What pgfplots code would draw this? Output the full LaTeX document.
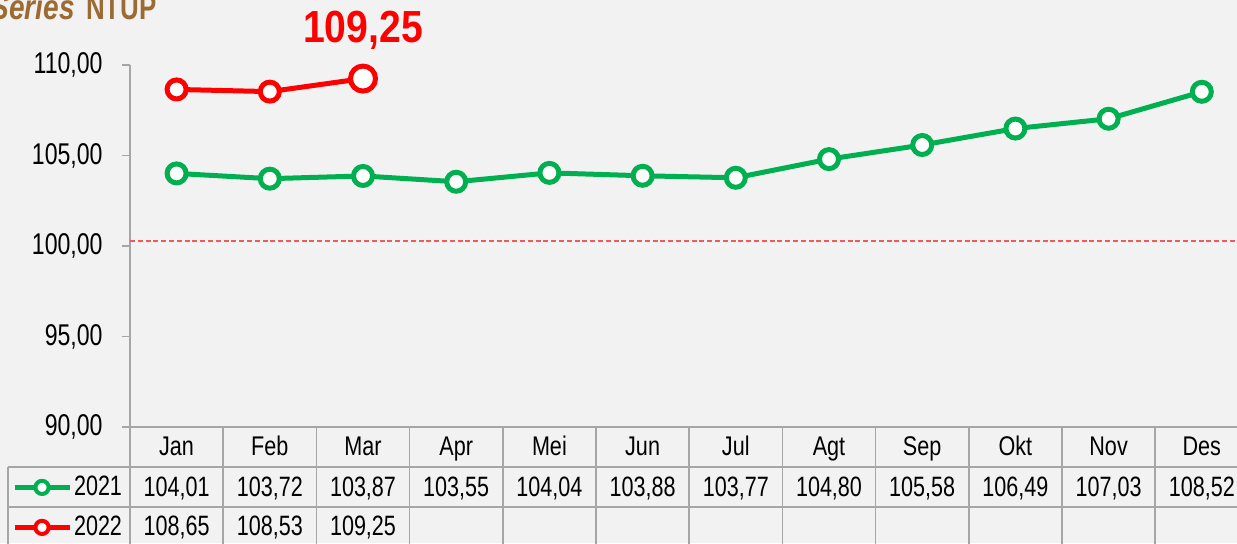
\documentclass[border=0pt]{standalone}
\usepackage{pgfplots}
\pgfplotsset{compat=1.18}
\usepackage{pgfplotstable}
\usepackage{fontspec}
\setmainfont[FakeStretch=0.77]{Liberation Sans}
\newfontfamily\labfont[FakeStretch=0.87]{Liberation Sans}
\newfontfamily\catfont[FakeStretch=0.80]{Liberation Sans}
\newfontfamily\titlefontA[FakeStretch=0.80]{Liberation Sans}
\newfontfamily\titlefontB[FakeStretch=0.74]{Liberation Sans}
\definecolor{bgc}{HTML}{F2F2F2}
\definecolor{ngreen}{HTML}{00B050}
\definecolor{nred}{HTML}{FF0000}
\definecolor{gridc}{HTML}{A6A6A6}
\definecolor{titlec}{HTML}{9C6A33}
\definecolor{dashc}{HTML}{F05A5A}

\pgfplotstableread{
x y
0 104.01
1 103.72
2 103.87
3 103.55
4 104.04
5 103.88
6 103.77
7 104.80
8 105.58
9 106.49
10 107.03
11 108.52
}\dataA
\pgfplotstableread{
x y
0 108.65
1 108.53
2 109.25
}\dataB

\newcommand{\tabfont}{\fontsize{14}{16}\selectfont}
\newcommand{\numfmt}[1]{\pgfmathprintnumber[fixed,fixed zerofill,precision=2,use comma,assume math mode=true,1000 sep={}]{#1}}

\begin{document}
\begin{tikzpicture}
\fill[bgc] (0,0) rectangle (618.5pt,271.5pt);
\begin{axis}[
  at={(65pt,58pt)}, anchor=south west,
  scale only axis, width=559.2pt, height=181pt,
  xmin=-0.5, xmax=11.5, ymin=90, ymax=110,
  clip=false,
  axis x line*=bottom, axis y line*=left,
  axis line style={gridc, line width=0.75pt, -},
  xtick={0,1,2,3,4,5,6,7,8,9,10,11},
  xticklabels={Jan,Feb,Mar,Apr,Mei,Jun,Jul,Agt,Sep,Okt,Nov,Des},
  xtick style={draw=none},
  xticklabel style={anchor=base, yshift=-10pt, inner sep=0pt, font=\catfont\fontsize{13.5}{15}\selectfont},
  ytick={90,95,100,105,110},
  ytick style={gridc, line width=0.75pt},
  tick align=outside, major tick length=4pt,
  yticklabel style={anchor=east, inner sep=0pt, xshift=-9.5pt, font=\fontsize{15}{17}\selectfont,
    /pgf/number format/.cd, fixed, fixed zerofill, precision=2, use comma, assume math mode=true},
  legend style={at={(axis cs:-1.77,87.79)}, anchor=north west, draw=none, fill=none,
    inner sep=0pt, row sep=0pt, column sep=1pt, font=\tabfont,
    nodes={inner sep=0pt, minimum height=20pt}},
  legend cell align=left,
  legend image code/.code={
    \draw[#1, mark=none] (0pt,0pt) -- (27.5pt,0pt);
    \draw[#1, mark size=3.3pt, line width=2pt] plot coordinates {(13.75pt,0pt)};
  },
]
% reference line
\addplot[dashc, line width=0.9pt, dash pattern=on 2.5pt off 1.4pt, forget plot]
  coordinates {(-0.5,100.27) (11.5,100.27)};

% table grid
\draw[gridc, line width=0.75pt] (axis cs:-1.809,87.79) -- (axis cs:11.5,87.79);
\draw[gridc, line width=0.75pt] (axis cs:-1.809,85.58) -- (axis cs:11.5,85.58);
\draw[gridc, line width=0.75pt] (axis cs:-1.809,87.79) -- (axis cs:-1.809,82);
\pgfplotsinvokeforeach{-0.5,0.5,1.5,2.5,3.5,4.5,5.5,6.5,7.5,8.5,9.5,10.5,11.5}{
  \draw[gridc, line width=0.75pt] (axis cs:#1,90) -- (axis cs:#1,82);
}

\addplot[ngreen, line width=2.5pt, mark=*, mark size=4.75pt, mark options={fill=white}]
  table[x=x, y=y]{\dataA};
\addlegendentry{2021}
\addplot[nred, line width=2.5pt, mark=*, mark size=4.75pt, mark options={fill=white}]
  table[x=x, y=y]{\dataB};
\addlegendentry{2022}

% highlighted last point with label
\addplot[nred, line width=2.5pt, only marks, mark=*, mark size=6.25pt, mark options={fill=white}, forget plot,
  point meta=y, nodes near coords={\numfmt{\pgfplotspointmeta}},
  every node near coord/.append style={anchor=base, yshift=17.8pt, inner sep=0pt,
    font=\labfont\fontsize{22.5}{23}\selectfont\bfseries, text=nred}]
  table[x=x, y=y, skip coords between index={0}{2}]{\dataB};

% data table values
\addplot[draw=none, forget plot, point meta=explicit,
  nodes near coords={\numfmt{\pgfplotspointmeta}},
  every node near coord/.append style={anchor=base, inner sep=0pt, font=\tabfont, text=black}]
  table[x=x, y expr=86.16, meta=y]{\dataA};
\addplot[draw=none, forget plot, point meta=explicit,
  nodes near coords={\numfmt{\pgfplotspointmeta}},
  every node near coord/.append style={anchor=base, inner sep=0pt, font=\tabfont, text=black}]
  table[x=x, y expr=83.98, meta=y]{\dataB};
\end{axis}
\node[anchor=base east, text=titlec, font=\titlefontA\fontsize{17.5}{17.5}\selectfont\bfseries\itshape, inner sep=0pt]
  at (37.5pt,262pt) {Series};
\node[anchor=base east, text=titlec, font=\titlefontB\fontsize{17.5}{17.5}\selectfont\bfseries, inner sep=0pt]
  at (78.5pt,262pt) {NTUP};
\pgfresetboundingbox
\useasboundingbox (0,0) rectangle (618.5pt,271.5pt);
\end{tikzpicture}
\end{document}
